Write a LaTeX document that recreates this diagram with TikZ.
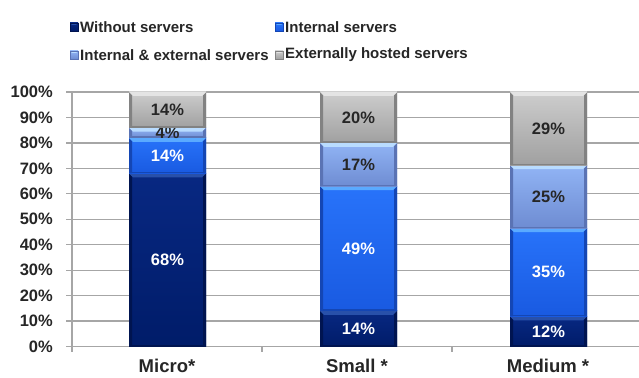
\documentclass[tikz,border=0pt]{standalone}
\usepackage{fontspec}
\newfontfamily\chartfont{Liberation Sans Bold}
\definecolor{txt}{HTML}{262626}
\definecolor{grid}{HTML}{A6A6A6}
% series colours: top, bottom, highlight, edge
\definecolor{sAtop}{RGB}{8,40,130}
\definecolor{sAbot}{RGB}{0,28,105}
\definecolor{sAhi}{RGB}{40,80,170}
\definecolor{sAedge}{RGB}{0,20,80}
\definecolor{sBtop}{RGB}{40,115,250}
\definecolor{sBbot}{RGB}{25,90,225}
\definecolor{sBhi}{RGB}{90,170,255}
\definecolor{sBedge}{RGB}{20,70,180}
\definecolor{sCtop}{RGB}{145,180,245}
\definecolor{sCbot}{RGB}{110,140,210}
\definecolor{sChi}{RGB}{185,220,255}
\definecolor{sCedge}{RGB}{90,115,180}
\definecolor{sDtop}{RGB}{205,205,205}
\definecolor{sDbot}{RGB}{160,160,160}
\definecolor{sDhi}{RGB}{228,228,228}
\definecolor{sDedge}{RGB}{130,130,130}
\tikzset{
  lbl/.style={font=\chartfont\fontsize{16.5}{19}\selectfont, inner sep=0pt},
  leg/.style={font=\chartfont\fontsize{15}{18}\selectfont, inner sep=0pt, text=txt, anchor=west},
  cat/.style={font=\chartfont\fontsize{18.5}{21}\selectfont, inner sep=0pt, text=txt},
  gridline/.style={draw=grid, line width=1.2pt},
}
% one stacked segment: #1 left x, #2 lower %, #3 upper %, #4 series, #5 text, #6 text colour, #7 node name
\newcommand\barseg[7]{%
  \pgfmathsetmacro\yb{346.5-2.545*#2}%
  \pgfmathsetmacro\yt{346.5-2.545*#3}%
  \shade[top color=#4top, bottom color=#4bot] (#1,\yt) rectangle ({#1+77},\yb);
  \fill[#4edge] (#1,\yt) -- ({#1+3},{\yt+3}) -- ({#1+3},\yb) -- (#1,\yb) -- cycle;
  \fill[#4edge] ({#1+77},\yt) -- ({#1+74},{\yt+3}) -- ({#1+74},\yb) -- ({#1+77},\yb) -- cycle;
  \fill[#4edge] (#1,{\yb-1.5}) rectangle ({#1+77},\yb);
  \fill[#4hi] (#1,\yt) -- ({#1+77},\yt) -- ({#1+73},{\yt+4}) -- ({#1+4},{\yt+4}) -- cycle;
  \node[lbl, text=#6] (#7) at ({#1+38.5},{(\yt+\yb)/2}) {#5};
}
% legend key: #1 x, #2 y, #3 series
\newcommand\legkey[3]{%
  \shade[top color=#3top, bottom color=#3bot] (#1,{#2-4}) rectangle ({#1+8},{#2+4});
  \fill[#3hi] (#1,{#2-4}) -- ({#1+8},{#2-4}) -- ({#1+6},{#2-2}) -- ({#1+2},{#2-2}) -- cycle;
  \draw[#3edge, line width=0.5pt] (#1,{#2-4}) rectangle ({#1+8},{#2+4});
}
\begin{document}
\begin{tikzpicture}[x=1pt,y=-1pt]
\useasboundingbox (0,0) rectangle (639,377);
\fill[white] (0,0) rectangle (639,377);

% legend
\legkey{70}{27}{sA}
\node[leg] (lA) at (80,27) {Without servers};
\legkey{275}{27}{sB}
\node[leg] (lB) at (285,27) {Internal servers};
\legkey{70}{55}{sC}
\node[leg] (lC) at (80,55) {Internal \& external servers};
\legkey{275}{55}{sD}
\node[leg] (lD) at (285,55) {Externally hosted servers};

% grid and value axis labels
\foreach \p in {0,10,...,100}{
  \pgfmathsetmacro\yy{346.5-2.545*\p}
  \draw[gridline] (66,\yy) -- (639,\yy);
  \node[lbl, text=txt, anchor=east] (t\p) at (53,\yy) {\p\%};
}
\draw[gridline] (72,92) -- (72,352);
\draw[gridline] (262,346.5) -- (262,352);
\draw[gridline] (452,346.5) -- (452,352);

% Micro
\barseg{129}{0}{68}{sA}{68\%}{white}{m1}
\barseg{129}{68}{82}{sB}{14\%}{white}{m2}
\barseg{129}{82}{86}{sC}{4\%}{txt}{m3}
\barseg{129}{86}{100}{sD}{14\%}{txt}{m4}
% Small
\barseg{320}{0}{14}{sA}{14\%}{white}{s1}
\barseg{320}{14}{63}{sB}{49\%}{white}{s2}
\barseg{320}{63}{80}{sC}{17\%}{txt}{s3}
\barseg{320}{80}{100}{sD}{20\%}{txt}{s4}
% Medium (shares of 101, scaled to 100 %)
\barseg{510}{0}{11.88}{sA}{12\%}{white}{d1}
\barseg{510}{11.88}{46.53}{sB}{35\%}{white}{d2}
\barseg{510}{46.53}{71.29}{sC}{25\%}{txt}{d3}
\barseg{510}{71.29}{100}{sD}{29\%}{txt}{d4}

% category labels
\node[cat] (cM) at (167,366) {Micro*};
\node[cat] (cS) at (357,366) {Small *};
\node[cat] (cD) at (548,366) {Medium *};
\end{tikzpicture}
\end{document}
